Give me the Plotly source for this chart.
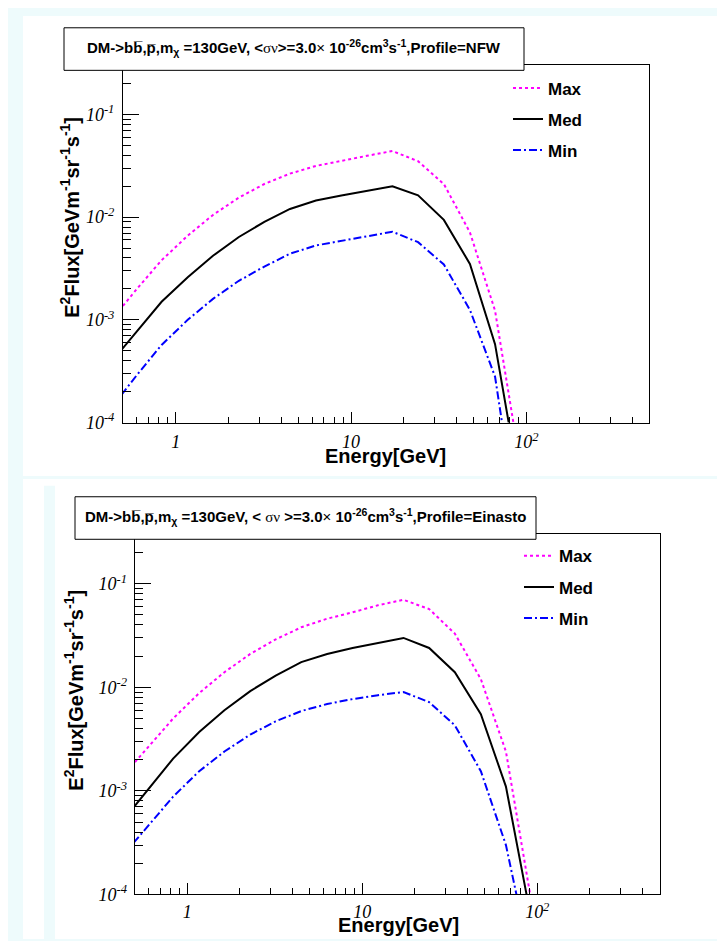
import plotly.graph_objects as go

# ---------------- data ----------------
energy = [0.43, 0.6, 0.83, 1.17, 1.63, 2.29, 3.2, 4.48, 6.3, 8.8, 12.3, 17.2,
          24.1, 33.8, 47.6, 66.2, 92.0]

nfw_max = [1.0e-3, 2.0e-3, 3.8e-3, 6.6e-3, 1.05e-2, 1.55e-2, 2.1e-2, 2.65e-2,
           3.15e-2, 3.55e-2, 3.95e-2, 4.4e-2, 3.5e-2, 2.1e-2, 7.1e-3, 1.23e-3, 4.0e-5]
nfw_med = [3.9e-4, 7.8e-4, 1.5e-3, 2.6e-3, 4.2e-3, 6.4e-3, 9.0e-3, 1.2e-2,
           1.45e-2, 1.62e-2, 1.8e-2, 2.0e-2, 1.63e-2, 9.4e-3, 3.5e-3, 5.8e-4, 2.3e-5]
nfw_min = [1.4e-4, 2.9e-4, 5.7e-4, 1.0e-3, 1.6e-3, 2.4e-3, 3.3e-3, 4.4e-3,
           5.3e-3, 5.9e-3, 6.5e-3, 7.2e-3, 5.7e-3, 3.46e-3, 1.25e-3, 2.8e-4, 7.0e-6]

ein_max = [1.4e-3, 2.7e-3, 5.0e-3, 8.8e-3, 1.4e-2, 2.1e-2, 2.9e-2, 3.8e-2,
           4.6e-2, 5.3e-2, 6.2e-2, 7.0e-2, 5.7e-2, 3.3e-2, 1.2e-2, 2.4e-3, 9.0e-5]
ein_med = [5.2e-4, 1.05e-3, 2.05e-3, 3.7e-3, 6.0e-3, 9.2e-3, 1.3e-2, 1.75e-2,
           2.1e-2, 2.4e-2, 2.7e-2, 3.0e-2, 2.4e-2, 1.4e-2, 5.5e-3, 1.1e-3, 6.0e-5]
ein_min = [2.4e-4, 4.6e-4, 8.8e-4, 1.55e-3, 2.4e-3, 3.5e-3, 4.7e-3, 5.9e-3,
           6.9e-3, 7.7e-3, 8.4e-3, 9.0e-3, 7.2e-3, 4.3e-3, 1.55e-3, 3.0e-4, 2.2e-5]

series_names = ["Max", "Med", "Min"]

x_tickvals = [1, 10, 100]
x_ticktext = ["1", "10", "10<sup>2</sup>"]
x_minor = [0.6, 0.7, 0.8, 0.9, 2, 3, 4, 5, 6, 7, 8, 9,
           20, 30, 40, 50, 60, 70, 80, 90, 200, 300, 400]
y_tickvals = [1e-4, 1e-3, 1e-2, 1e-1]
y_ticktext = ["10<sup>-4</sup>", "10<sup>-3</sup>", "10<sup>-2</sup>", "10<sup>-1</sup>"]
y_minor = [m * 10.0 ** e for e in (-4, -3, -2) for m in range(2, 10)] + [0.2]

title_nfw = ("DM-&gt;bb\u0305,p\u0305,m<sub>\u03c7</sub> =130GeV, &lt;"
             "<span style='font-family:Liberation Serif;font-weight:normal'>\u03c3\u03bd</span>"
             "&gt;=3.0<span style='font-weight:normal'>\u00d7</span> 10<sup>-26</sup>cm<sup>3</sup>"
             "s<sup>-1</sup>,Profile=NFW")
title_ein = ("DM-&gt;bb\u0305,p\u0305,m<sub>\u03c7</sub> =130GeV, &lt; "
             "<span style='font-family:Liberation Serif;font-weight:normal'>\u03c3\u03bd</span>"
             " &gt;=3.0<span style='font-weight:normal'>\u00d7</span> 10<sup>-26</sup>cm<sup>3</sup>"
             "s<sup>-1</sup>,Profile=Einasto")
x_title = "Energy[GeV]"
y_title = "E<sup>2</sup>Flux[GeVm<sup>-1</sup>sr<sup>-1</sup>s<sup>-1</sup>]"

# ---------------- layout helpers ----------------
W, H = 725, 941
def fx(px):
    return px / W
def fy(py):
    return 1 - py / H

styles = [dict(color="#ff00ff", width=2, dash="dot"),
          dict(color="black", width=2, dash="solid"),
          dict(color="#0000ff", width=2, dash="8px,3px,2px,3px")]

fig = go.Figure()
for panel, (vals, xa, ya, lg) in enumerate([
        ((nfw_max, nfw_med, nfw_min), "x", "y", "legend"),
        ((ein_max, ein_med, ein_min), "x2", "y2", "legend2")]):
    for name, v, st in zip(series_names, vals, styles):
        fig.add_trace(go.Scatter(x=energy, y=v, mode="lines", name=name,
                                 line=st, xaxis=xa, yaxis=ya, legend=lg,
                                 legendgroup=f"{lg}{name}"))

tickfont = dict(family="Liberation Serif", size=18, color="black", style="italic")

def xaxis(domain, anchor, standoff):
    return dict(type="log", range=[-0.30103, 2.69897], domain=domain, anchor=anchor,
                showline=True, linecolor="black", linewidth=1, mirror=True,
                ticks="inside", ticklen=11, tickwidth=1, tickcolor="black",
                tickvals=x_tickvals, ticktext=x_ticktext, tickfont=tickfont,
                ticklabelstandoff=standoff,
                minor=dict(tickvals=x_minor, ticks="inside", ticklen=6,
                           tickcolor="black", tickwidth=1, showgrid=False),
                showgrid=False, zeroline=False)

def yaxis(domain, anchor, standoff):
    return dict(type="log", range=[-4, -0.5229], domain=domain, anchor=anchor,
                showline=True, linecolor="black", linewidth=1, mirror=True,
                ticks="inside", ticklen=16, tickwidth=1, tickcolor="black",
                tickvals=y_tickvals, ticktext=y_ticktext, tickfont=tickfont,
                ticklabelstandoff=standoff,
                minor=dict(tickvals=y_minor, ticks="inside", ticklen=8,
                           tickcolor="black", tickwidth=1, showgrid=False),
                showgrid=False, zeroline=False)

# plot frames (pixels): top 115..641 x 58..419 ; bottom 126.6..651.6 x 532..896
top = dict(l=115, r=641, t=58, b=419)
bot = dict(l=126.6, r=651.6, t=532, b=896)

legend_font = dict(family="Liberation Sans", size=17, color="black", weight="bold")

fig.update_layout(
    width=W, height=H, autosize=False,
    margin=dict(l=0, r=0, t=0, b=0),
    paper_bgcolor="#eefbfc", plot_bgcolor="white",
    showlegend=True,
    xaxis=xaxis([fx(top["l"]), fx(top["r"])], "y", 3),
    yaxis=yaxis([fy(top["b"]), fy(top["t"])], "x", 4),
    xaxis2=xaxis([fx(bot["l"]), fx(bot["r"])], "y2", 1),
    yaxis2=yaxis([fy(bot["b"]), fy(bot["t"])], "x2", 3),
    legend=dict(x=fx(500), y=fy(63), xanchor="left", yanchor="top",
                bgcolor="rgba(0,0,0,0)", borderwidth=0, font=legend_font,
                traceorder="grouped", tracegroupgap=6, itemwidth=30),
    legend2=dict(x=fx(511), y=fy(536), xanchor="left", yanchor="top",
                 bgcolor="rgba(0,0,0,0)", borderwidth=0, font=legend_font,
                 traceorder="grouped", tracegroupgap=6, itemwidth=30),
)

# canvas (white pads on light cyan background)
shapes = [
    dict(type="rect", xref="paper", yref="paper", x0=fx(15), x1=fx(721), y0=fy(473), y1=fy(8),
         fillcolor="white", line=dict(width=0), layer="below"),
    dict(type="rect", xref="paper", yref="paper", x0=fx(15), x1=fx(725), y0=fy(941), y1=fy(476),
         fillcolor="white", line=dict(width=0), layer="below"),
    dict(type="rect", xref="paper", yref="paper", x0=fx(36), x1=fx(47), y0=fy(941), y1=fy(483),
         fillcolor="#eefbfc", line=dict(width=0), layer="below"),
    # title boxes
    dict(type="rect", xref="paper", yref="paper", x0=fx(56), x1=fx(516), y0=fy(63), y1=fy(20),
         fillcolor="white", line=dict(color="black", width=1), layer="above"),
    dict(type="rect", xref="paper", yref="paper", x0=fx(67), x1=fx(528), y0=fy(537), y1=fy(494),
         fillcolor="white", line=dict(color="black", width=1), layer="above"),
]
fig.update_layout(shapes=shapes)

title_font = dict(family="Liberation Sans", size=15, color="black", weight="bold")
axis_title_font = dict(family="Liberation Sans", size=20, color="black", weight="bold")
annotations = [
    dict(text=title_nfw, x=fx(286), y=fy(40), xref="paper", yref="paper",
         showarrow=False, font=title_font, xanchor="center", yanchor="middle"),
    dict(text=title_ein, x=fx(297.5), y=fy(514), xref="paper", yref="paper",
         showarrow=False, font=title_font, xanchor="center", yanchor="middle"),
    dict(text=x_title, x=fx(378), y=fy(453), xref="paper", yref="paper",
         showarrow=False, font=axis_title_font, xanchor="center", yanchor="middle"),
    dict(text=x_title, x=fx(390), y=fy(927), xref="paper", yref="paper",
         showarrow=False, font=axis_title_font, xanchor="center", yanchor="middle"),
    dict(text=y_title, x=fx(62), y=fy(212), xref="paper", yref="paper", textangle=-90,
         showarrow=False, font=axis_title_font, xanchor="center", yanchor="middle"),
    dict(text=y_title, x=fx(66), y=fy(690), xref="paper", yref="paper", textangle=-90,
         showarrow=False, font=axis_title_font, xanchor="center", yanchor="middle"),
]
fig.update_layout(annotations=annotations)

fig.write_html("out.html")
